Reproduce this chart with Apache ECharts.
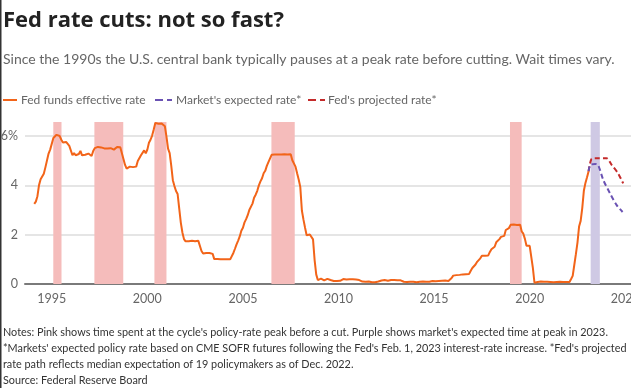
<!DOCTYPE html>
<html><head><meta charset="utf-8">
<script src="https://cdn.jsdelivr.net/npm/echarts@6/dist/echarts.min.js"></script>
<style>html,body{margin:0;padding:0;background:#fff}#c{width:631px;height:388px}</style>
</head><body><div id="c"></div>
<script>
// Monthly Fed funds effective rate, starting Feb 1994
const rateStartYear = 1994;
const rateStartMonth = 2;
const fedFundsRate = [
  3.25,3.34,3.56,4.01,4.25,4.26,4.47,4.73,4.76,5.29,5.45,
  5.53,5.92,5.98,6.05,6.01,6.00,5.85,5.74,5.80,5.76,5.80,5.60,
  5.56,5.22,5.31,5.22,5.24,5.27,5.40,5.22,5.30,5.24,5.31,5.29,
  5.25,5.19,5.39,5.51,5.50,5.56,5.52,5.54,5.54,5.50,5.52,5.50,
  5.56,5.51,5.49,5.45,5.49,5.56,5.54,5.55,5.51,5.07,4.83,4.68,
  4.63,4.76,4.81,4.74,4.74,4.76,4.99,5.07,5.22,5.20,5.42,5.30,
  5.45,5.73,5.85,6.02,6.27,6.53,6.54,6.50,6.52,6.51,6.51,6.40,
  5.98,5.49,5.31,4.80,4.21,3.97,3.77,3.65,3.07,2.49,2.09,1.82,
  1.73,1.74,1.73,1.75,1.75,1.75,1.73,1.74,1.75,1.75,1.34,1.24,
  1.24,1.26,1.25,1.26,1.26,1.22,1.01,1.03,1.01,1.01,1.00,0.98,
  1.00,1.01,1.00,1.00,1.00,1.03,1.26,1.43,1.61,1.76,1.93,2.16,
  2.28,2.50,2.63,2.79,3.00,3.04,3.26,3.50,3.62,3.78,4.00,4.16,
  4.29,4.49,4.59,4.79,4.94,4.99,5.24,5.25,5.25,5.25,5.25,5.24,
  5.25,5.26,5.26,5.25,5.25,5.25,5.26,5.02,4.94,4.76,4.49,4.24,
  3.94,2.98,2.61,2.28,1.98,2.00,2.01,2.00,1.81,0.97,0.39,0.16,
  0.15,0.22,0.18,0.15,0.18,0.21,0.16,0.16,0.15,0.12,0.12,0.12,
  0.11,0.13,0.16,0.20,0.20,0.18,0.18,0.19,0.19,0.19,0.19,0.18,
  0.17,0.16,0.14,0.10,0.09,0.09,0.07,0.10,0.08,0.07,0.08,0.07,
  0.08,0.10,0.13,0.14,0.16,0.16,0.16,0.13,0.14,0.16,0.16,0.16,
  0.14,0.15,0.14,0.15,0.11,0.09,0.09,0.08,0.08,0.09,0.08,0.09,
  0.07,0.07,0.08,0.09,0.09,0.10,0.09,0.09,0.09,0.09,0.09,0.12,
  0.11,0.11,0.11,0.12,0.12,0.13,0.13,0.14,0.14,0.12,0.12,0.24,
  0.34,0.38,0.36,0.37,0.37,0.38,0.39,0.40,0.40,0.40,0.41,0.54,
  0.65,0.66,0.79,0.90,0.91,1.04,1.15,1.16,1.15,1.15,1.16,1.30,
  1.41,1.42,1.51,1.69,1.70,1.82,1.91,1.91,1.95,2.19,2.20,2.27,
  2.40,2.40,2.41,2.42,2.39,2.38,2.40,2.13,2.04,1.83,1.55,1.55,
  1.55,1.58,0.65,0.05,0.05,0.08,0.09,0.10,0.09,0.09,0.09,0.09,
  0.09,0.08,0.07,0.07,0.06,0.08,0.10,0.09,0.08,0.08,0.08,0.08,
  0.08,0.08,0.20,0.33,0.77,1.21,1.68,2.33,2.56,3.08,3.78,4.10,
  4.33,4.57
];
// [decimal year, rate]
const marketExpected = [[2023.08,4.57],[2023.17,4.82],[2023.42,4.87],[2023.58,4.82],[2023.85,4.22],[2024.2,3.68],[2024.55,3.2],[2024.86,2.92]];
const fedProjected = [[2023.08,4.57],[2023.22,5.05],[2023.4,5.1],[2024.02,5.1],[2024.28,4.84],[2024.63,4.48],[2024.89,4.08]];
// Time at cycle peak before a cut [start, end]
const peakBands = [[1995.08,1995.51],[1997.23,1998.74],[2000.37,2001.0],[2006.49,2007.71],[2018.97,2019.58]];
const expectedPeakBand = [[2023.19,2023.67]];
const xTickLabels = [1995,2000,2005,2010,2015,2020,2025];
const yTickValues = [0,2,4,6];

const FONT = 'Lato';
const rateData = fedFundsRate.map((v,i) => [rateStartYear + (rateStartMonth - 1 + i) / 12, v]);

const chart = echarts.init(document.getElementById('c'), null, {renderer:'canvas'});
chart.setOption({
  animation:false,
  backgroundColor:'#fff',
  textStyle:{fontFamily:FONT},
  grid:{left:25,right:0,top:122,bottom:104,containLabel:false,outerBoundsMode:'none'},
  xAxis:{type:'value',min:1993.6,max:2025.3,
    axisLine:{show:true,onZero:false,lineStyle:{color:'#7a7a7a',width:2}},
    axisTick:{show:false},
    splitLine:{show:false},
    axisLabel:{customValues:xTickLabels,color:'#666',fontSize:12.5,margin:8,fontFamily:FONT,formatter:v=>String(v),hideOverlap:false}
  },
  yAxis:{type:'value',min:0,max:6.57,
    axisLine:{show:false},
    axisTick:{show:false,customValues:yTickValues},
    splitLine:{show:true,lineStyle:{color:'#dcdcdc',width:1.5}},
    axisLabel:{customValues:yTickValues,color:'#666',fontSize:12.5,margin:7,fontFamily:FONT,formatter:v=>v===6?'6%':String(v)}
  },
  series:[
    {type:'line',data:[],z:1,silent:true,
      markArea:{silent:true,
        data:peakBands.map(b=>[{xAxis:b[0],itemStyle:{color:'#f5bcbb'}},{xAxis:b[1]}])
          .concat(expectedPeakBand.map(b=>[{xAxis:b[0],itemStyle:{color:'#cfc9e4'}},{xAxis:b[1]}]))
      }
    },
    {name:"Fed's projected rate",type:'line',data:fedProjected,showSymbol:false,smooth:0.3,z:3,
      lineStyle:{color:'#c42a2a',width:2,type:[5,3]}},
    {name:"Market's expected rate",type:'line',data:marketExpected,showSymbol:false,smooth:0.3,z:4,
      lineStyle:{color:'#6a52b3',width:2,type:[5,3]}},
    {name:'Fed funds effective rate',type:'line',data:rateData,showSymbol:false,z:5,
      lineStyle:{color:'#f26419',width:2}}
  ],
  graphic:[
    {type:'rect',left:0,top:0,shape:{width:1.5,height:388},style:{fill:'#333'}},
    {type:'text',left:3,top:10,style:{text:'Fed rate cuts: not so fast?',font:'bold 22px "Open Sans"',fill:'#222'}},
    {type:'text',left:3,top:52,style:{text:'Since the 1990s the U.S. central bank typically pauses at a peak rate before cutting. Wait times vary.',font:'14px '+FONT,fill:'#666'}},
    {type:'line',shape:{x1:3,y1:100,x2:17,y2:100},style:{stroke:'#f26419',lineWidth:2}},
    {type:'text',x:21,y:100,style:{text:'Fed funds effective rate',font:'12px '+FONT,fill:'#666',verticalAlign:'middle'}},
    {type:'line',shape:{x1:155,y1:100,x2:172,y2:100},style:{stroke:'#6a52b3',lineWidth:2,lineDash:[8,4]}},
    {type:'text',x:176,y:100,style:{text:"Market's expected rate*",font:'12px '+FONT,fill:'#666',verticalAlign:'middle'}},
    {type:'line',shape:{x1:308,y1:100,x2:325,y2:100},style:{stroke:'#c42a2a',lineWidth:2,lineDash:[8,4]}},
    {type:'text',x:328,y:100,style:{text:"Fed's projected rate*",font:'12px '+FONT,fill:'#666',verticalAlign:'middle'}},
    {type:'text',x:3,y:332,style:{text:"Notes: Pink shows time spent at the cycle's policy-rate peak before a cut. Purple shows market's expected time at peak in 2023.",font:'10.85px '+FONT,fill:'#333',verticalAlign:'middle'}},
    {type:'text',x:3,y:348,style:{text:"*Markets' expected policy rate based on CME SOFR futures following the Fed's Feb. 1, 2023 interest-rate increase. *Fed's projected",font:'10.85px '+FONT,fill:'#333',verticalAlign:'middle'}},
    {type:'text',x:3,y:364,style:{text:'rate path reflects median expectation of 19 policymakers as of Dec. 2022.',font:'10.85px '+FONT,fill:'#333',verticalAlign:'middle'}},
    {type:'text',x:3,y:380,style:{text:'Source: Federal Reserve Board',font:'10.85px '+FONT,fill:'#333',verticalAlign:'middle'}}
  ]
});
</script></body></html>
